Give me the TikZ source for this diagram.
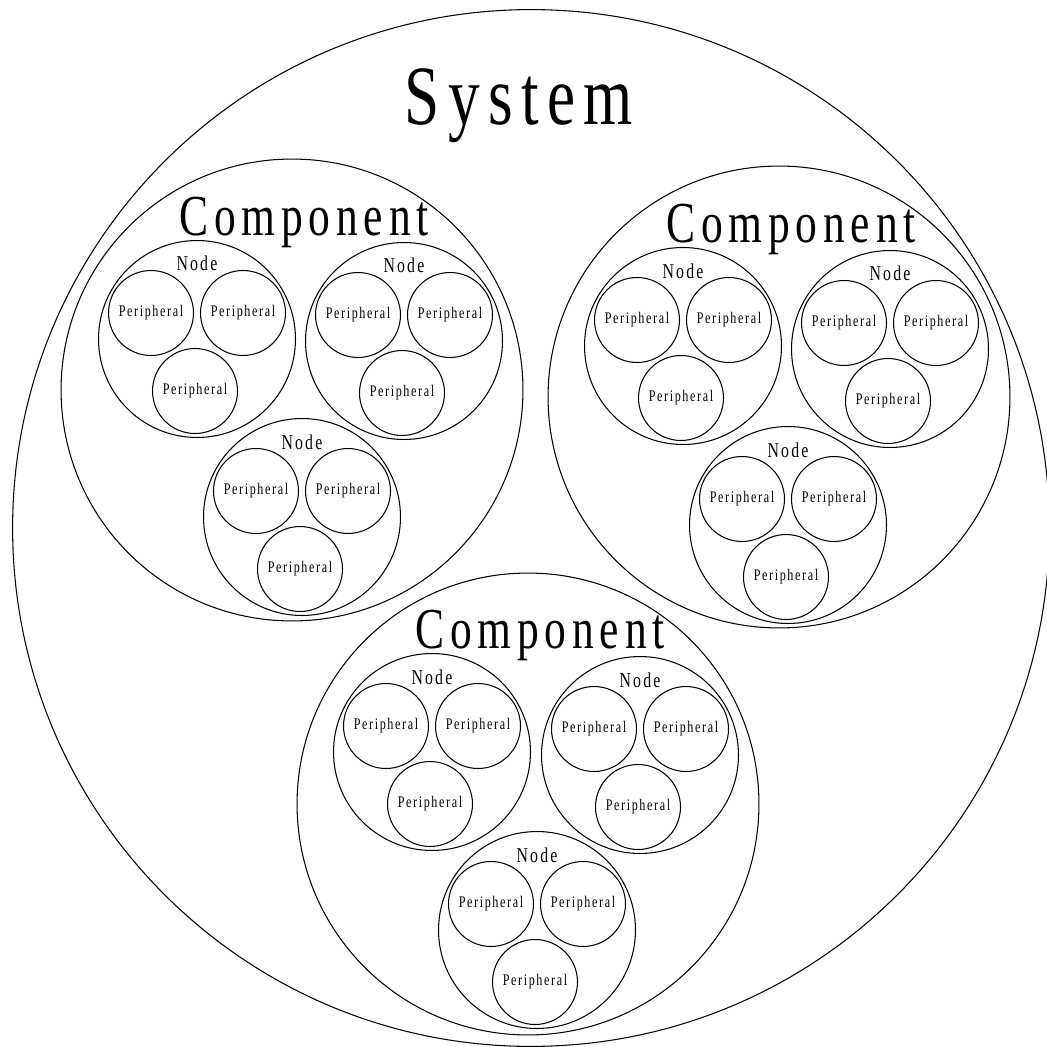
\documentclass[tikz,border=0pt]{standalone}
\usepackage{fontspec}
\setmainfont{Liberation Serif}[FakeStretch=0.75,LetterSpace=10]
\usetikzlibrary{calc}

\begin{document}
\begin{tikzpicture}[x=0.02cm, y=-0.02cm,
  ring/.style={circle, draw, line width=0.6pt, inner sep=0pt, minimum size=#1},
  sysring/.style={ring=20.74cm},
  compring/.style={ring=9.24cm},
  nodering/.style={ring=3.94cm},
  periph/.style={ring=1.7cm, font=\fontsize{9.2}{10}\selectfont},
  lbl/.style={anchor=base, inner sep=0pt, font=\fontsize{#1}{#1}\selectfont}
]
  \useasboundingbox (0,0) rectangle (1047,1047);

  % system
  \node[sysring] (sys) at (531,528) {};
  \node[lbl=48] (sys-lbl) at (519,125) {System};

  % components
  \node[compring] (c1) at (292,390) {};
  \node[compring] (c2) at (779,397) {};
  \node[compring] (c3) at (528,804) {};
  \node[lbl=33] (c1-lbl) at (304,236) {Component};
  \node[lbl=33] (c2-lbl) at (791,243) {Component};
  \node[lbl=33] (c3-lbl) at (540,648) {Component};

  % nodes
  \node[nodering] (c1n1) at (197,339) {};
  \node[nodering] (c1n2) at (404,341) {};
  \node[nodering] (c1n3) at (302,517) {};
  \node[nodering] (c2n1) at (683,346) {};
  \node[nodering] (c2n2) at (890,349) {};
  \node[nodering] (c2n3) at (788,525) {};
  \node[nodering] (c3n1) at (432,752) {};
  \node[nodering] (c3n2) at (640,755) {};
  \node[nodering] (c3n3) at (537,930) {};

  % peripherals of each node
  \foreach \n in {c1n1,c1n2,c1n3,c2n1,c2n2,c2n3,c3n1,c3n2,c3n3} {
    \node[lbl=12] (\n-lbl) at ($(\n)+(0,-68)$) {Node};
    \node[periph] (\n-p1) at ($(\n)+(-46,-26)$) {Peripheral};
    \node[periph] (\n-p2) at ($(\n)+(46,-26)$) {Peripheral};
    \node[periph] (\n-p3) at ($(\n)+(-2,52)$) {Peripheral};
  }
\end{tikzpicture}
\end{document}
